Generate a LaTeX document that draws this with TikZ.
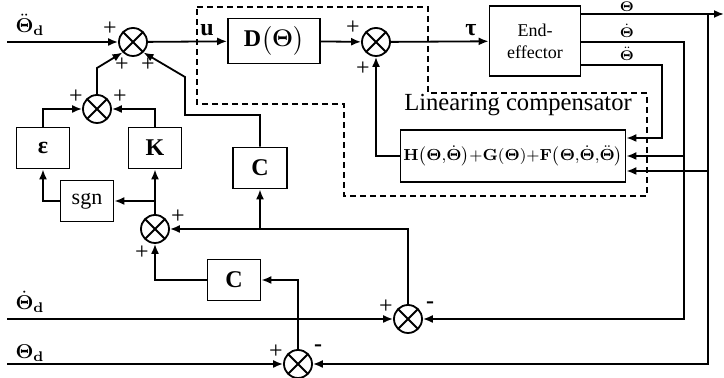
\documentclass[tikz,border=0pt]{standalone}
\usepackage{amsmath}
\usepackage[no-math]{fontspec}
\setmainfont{Liberation Serif}
\usetikzlibrary{positioning,arrows.meta}

\begin{document}
\begin{tikzpicture}[
x=0.5pt,y=-0.5pt,
line width=0.9pt,
box/.style={rectangle,draw,minimum width=26.5pt,minimum height=20.5pt,inner sep=1pt,font=\large\bfseries},
sum/.style={circle,draw,minimum size=14pt,inner sep=0pt,
path picture={\draw (path picture bounding box.south west)--(path picture bounding box.north east)
(path picture bounding box.north west)--(path picture bounding box.south east);}},
sign/.style={inner sep=0pt,font=\large},
lbl/.style={inner sep=0pt},
arrow/.style={-{Latex[length=5pt,width=4pt]}}
]
\useasboundingbox (0,0) rectangle (724,378);
\draw[line width=0.6pt,dash pattern=on 3pt off 2pt] (197,7) -- (428,7) -- (428,93) -- (647,93) -- (647,196) -- (344,196) -- (344,104) -- (197,104) -- cycle;
\node[font=\fontsize{12.3}{14}\selectfont] (lc) at (518,105) {Linearing compensator};

\node[sum] (s1) at (133,42) {};
\node[box,minimum width=46pt,minimum height=22.5pt] (d) at (274,41) {D$\bigl(\mathbf{\Theta}\bigr)$};
\node[sum] (s2) at (376,42) {};
\node[box,minimum width=45.5pt,minimum height=35pt,font=\small,align=center] (ee) at (535,41) {End-\\effector};
\node[box,minimum width=112.5pt,minimum height=26pt,inner sep=0pt,font=\footnotesize] (h) at (513,156)
{$\mathbf{H}\bigl(\mathbf{\Theta}{,}\dot{\mathbf{\Theta}}\bigr){+}\mathbf{G}(\mathbf{\Theta}){+}\mathbf{F}\bigl(\mathbf{\Theta}{,}\dot{\mathbf{\Theta}}{,}\ddot{\mathbf{\Theta}}\bigr)$};
\node[box] (eps) at (43,148) {ε};
\node[box] (k) at (155,148) {K};
\node[box,font=\fontsize{11}{13}\selectfont] (sgn) at (87,201) {sgn};
\node[box,minimum width=27pt] (c1) at (260,168) {C};
\node[box] (c2) at (234,280) {C};
\node[sum] (s3) at (97,109) {};
\node[sum] (s4) at (155,229) {};
\node[sum] (s5) at (408,319) {};
\node[sum] (s6) at (298,364) {};

\coordinate (in1) at (7,42);
\coordinate (in2) at (7,319);
\coordinate (in3) at (7,364);
\coordinate (out) at (724,14);
\coordinate (v1) at (708,14);
\coordinate (v2) at (684,42);
\coordinate (v3) at (662,65);
\coordinate (h1) at ([yshift=9pt]h.east);
\coordinate (h3) at ([yshift=-7.5pt]h.east);
\coordinate (j1) at (97,68);
\coordinate (j2) at (185,115);
\coordinate (j3) at (185,77);

\draw[arrow] (in1) -- (s1);
\draw[arrow] (s1) -- (d);
\draw[arrow] (d) -- (s2);
\draw[arrow] (s2) -- (ee);
\draw[arrow] (ee.east |- v1) -- (out);
\draw[arrow] (v1) -- (v1 |- s6) -- (s6);
\draw[arrow] (v1 |- h3) -- (h3);
\draw[arrow] (ee.east |- v2) -- (v2) -- (v2 |- s5) -- (s5);
\draw[arrow] (v2 |- h.east) -- (h.east);
\draw[arrow] (ee.east |- v3) -- (v3) -- (v3 |- h1) -- (h1);
\draw[arrow] (h.west) -- (s2 |- h.west) -- (s2);
\draw[arrow] (s3) -- (j1) -- (s1.225);
\draw[arrow] (c1) -- (c1 |- j2) -- (j2) -- (j3) -- (s1.-45);
\draw[arrow] (eps) -- (eps |- s3) -- (s3);
\draw[arrow] (k) -- (k |- s3) -- (s3);
\draw[arrow] (s4) -- (k);
\draw[arrow] (s4 |- sgn) -- (sgn);
\draw[arrow] (sgn) -- (eps |- sgn) -- (eps);
\draw[arrow] (s5) -- (s5 |- s4) -- (s4);
\draw[arrow] (c1 |- s4) -- (c1);
\draw[arrow] (s6) -- (s6 |- c2) -- (c2);
\draw[arrow] (c2) -- (s4 |- c2) -- (s4);
\draw[arrow] (in2) -- (s5);
\draw[arrow] (in3) -- (s6);

\node[lbl] (ldd) at (30,25) {$\ddot{\mathbf{\Theta}}_{\mathbf{d}}$};
\node[lbl] (ld) at (30,302) {$\dot{\mathbf{\Theta}}_{\mathbf{d}}$};
\node[lbl] (l0) at (30,353) {$\mathbf{\Theta}_{\mathbf{d}}$};
\node[lbl] (lu) at (207,30) {\large\bfseries u};
\node[lbl] (ltau) at (471,30) {\large\bfseries τ};
\node[lbl,font=\scriptsize] (lo0) at (627,7) {$\mathbf{\Theta}$};
\node[lbl,font=\scriptsize] (lo1) at (627,31) {$\dot{\mathbf{\Theta}}$};
\node[lbl,font=\scriptsize] (lo2) at (627,54) {$\ddot{\mathbf{\Theta}}$};

\node[sign] at (110,29) {+};
\node[sign] at (122,65) {+};
\node[sign] at (148,65) {+};
\node[sign] at (76,97) {+};
\node[sign] at (120,97) {+};
\node[sign] at (353,28) {+};
\node[sign] at (363,69) {+};
\node[sign] at (178,217) {+};
\node[sign] at (142,253) {+};
\node[sign] at (386,307) {+};
\node[sign] at (430,305) {\bfseries -};
\node[sign] at (276,352) {+};
\node[sign] at (318,348) {\bfseries -};
\end{tikzpicture}
\end{document}
